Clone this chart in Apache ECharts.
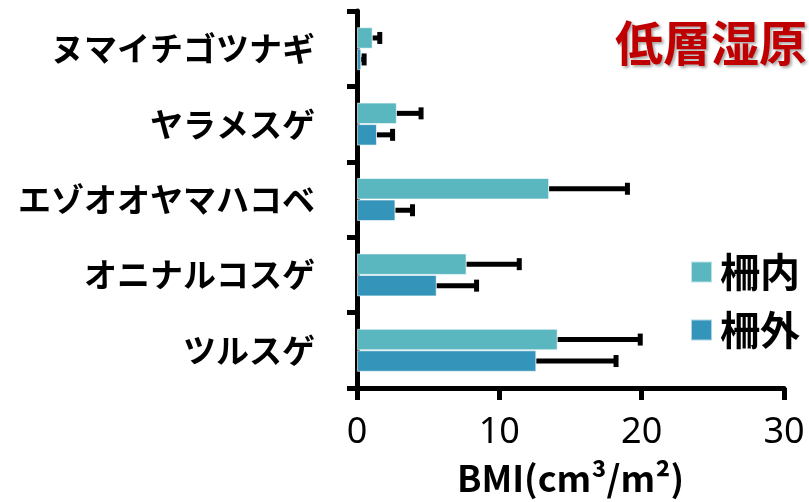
<!DOCTYPE html>
<html>
<head>
<meta charset="utf-8">
<script src="https://cdn.jsdelivr.net/npm/echarts@6/dist/echarts.min.js"></script>
<style>
  html, body { margin: 0; padding: 0; background: #ffffff; }
  #chart { width: 809px; height: 502px; }
</style>
</head>
<body>
<div id="chart"></div>
<script>
// Species, listed bottom to top along the category axis
const categories = ['ツルスゲ', 'オニナルコスゲ', 'エゾオオヤマハコベ', 'ヤラメスゲ', 'ヌマイチゴツナギ'];

// BMI (cm3/m2) inside the fence and its error
const insideValues = [14.1, 7.7, 13.5, 2.8, 1.1];
const insideErrors = [5.8, 3.7, 5.5, 1.7, 0.5];

// BMI (cm3/m2) outside the fence and its error
const outsideValues = [12.6, 5.6, 2.7, 1.4, 0.3];
const outsideErrors = [5.6, 2.8, 1.2, 1.1, 0.2];

const xMin = 0, xMax = 30, xInterval = 10;

const seriesNames = ['柵内', '柵外'];
const colorInside = '#5ab7c0';
const colorOutside = '#3594ba';
const categoryGap = 0.43;

// error bar: line from bar end to mean + error, with an end cap
function errorBarRenderer(slot) {
  return function (params, api) {
    const cat = api.value(0);
    const val = api.value(1);
    const err = api.value(2);
    const band = api.size([0, 1])[1];
    const bw = band * (1 - categoryGap) / 2;
    const offset = -bw + slot * bw + bw / 2;
    const start = api.coord([val, cat]);
    const end = api.coord([val + err, cat]);
    const y = start[1] + offset;
    return {
      type: 'group',
      children: [
        { type: 'line', shape: { x1: start[0], y1: y, x2: end[0], y2: y }, style: { stroke: '#000', lineWidth: 5 } },
        { type: 'line', shape: { x1: end[0], y1: y - 6, x2: end[0], y2: y + 6 }, style: { stroke: '#000', lineWidth: 5 } }
      ]
    };
  };
}

function errorData(values, errors) {
  return values.map((v, i) => [i, v, errors[i]]);
}

const chart = echarts.init(document.getElementById('chart'), null, { renderer: 'canvas' });

chart.setOption({
  animation: false,
  backgroundColor: '#ffffff',
  title: {
    text: '低層湿原',
    left: 610,
    top: 14,
    textStyle: {
      fontFamily: 'Noto Sans CJK JP',
      fontSize: 48,
      fontWeight: 'bold',
      color: '#c00000',
      textShadowColor: 'rgba(0,0,0,0.35)',
      textShadowBlur: 3,
      textShadowOffsetX: 2,
      textShadowOffsetY: 2
    }
  },
  legend: {
    data: seriesNames,
    orient: 'vertical',
    left: 685,
    top: 247,
    icon: 'rect',
    itemWidth: 21,
    itemHeight: 21,
    itemGap: 18,
    selectedMode: false,
    formatter: '{b|{name}}',
    textStyle: {
      color: '#000',
      rich: {
        b: {
          fontFamily: 'Noto Sans CJK JP',
          fontSize: 40,
          fontWeight: 'bold',
          color: '#000',
          lineHeight: 44,
          padding: [0, 0, 0, 3]
        }
      }
    }
  },
  grid: { left: 357, right: 25, top: 11, bottom: 114, containLabel: false },
  xAxis: {
    type: 'value',
    min: xMin,
    max: xMax,
    interval: xInterval,
    name: 'BMI(cm³/m²)',
    nameLocation: 'middle',
    nameGap: 72,
    nameTextStyle: { fontFamily: 'Noto Sans CJK JP', fontSize: 36, fontWeight: 'bold', color: '#000' },
    axisLine: { show: true, lineStyle: { color: '#000', width: 5 } },
    axisTick: { show: true, length: 12, lineStyle: { color: '#000', width: 5 } },
    axisLabel: { fontFamily: 'Noto Sans', fontSize: 36, color: '#000', margin: 27 },
    splitLine: { show: false }
  },
  yAxis: {
    type: 'category',
    data: categories,
    axisLine: { show: true, lineStyle: { color: '#000', width: 5 } },
    axisTick: { show: true, length: 10, lineStyle: { color: '#000', width: 5 } },
    axisLabel: { fontFamily: 'Noto Sans CJK JP', fontSize: 33, fontWeight: 'bold', color: '#000', margin: 42 }
  },
  series: [
    {
      name: seriesNames[0], type: 'bar', data: insideValues,
      barGap: '0%', barCategoryGap: (categoryGap * 100) + '%',
      itemStyle: { color: colorInside, borderColor: 'rgba(255,255,255,0.6)', borderWidth: 1 }
    },
    {
      name: seriesNames[1], type: 'bar', data: outsideValues,
      barGap: '0%', barCategoryGap: (categoryGap * 100) + '%',
      itemStyle: { color: colorOutside, borderColor: 'rgba(255,255,255,0.6)', borderWidth: 1 }
    },
    {
      type: 'custom', renderItem: errorBarRenderer(0), data: errorData(insideValues, insideErrors),
      encode: { x: [1, 2], y: 0 }, z: 5, silent: true
    },
    {
      type: 'custom', renderItem: errorBarRenderer(1), data: errorData(outsideValues, outsideErrors),
      encode: { x: [1, 2], y: 0 }, z: 5, silent: true
    }
  ]
});
</script>
</body>
</html>
